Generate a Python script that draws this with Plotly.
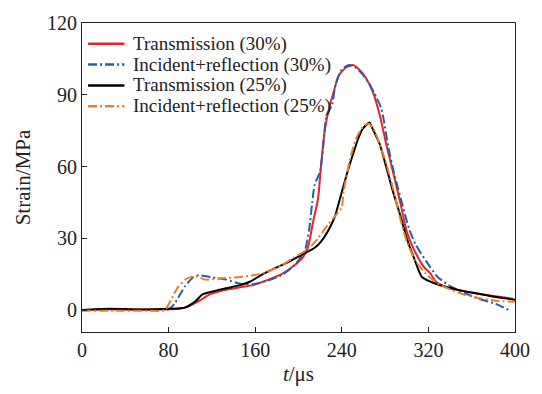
import plotly.graph_objects as go

# Time axis (μs) and strain values for each signal
t_tr30 = [0, 25, 60, 90, 95, 108, 117.5, 130, 146, 158, 171, 184, 196, 204, 209, 213.5, 218, 221, 224.6, 229,
          232.4, 237, 243.5, 250, 256, 262, 268.7, 275, 281, 287.6, 294, 300, 306.5, 316, 322, 327, 335,
          350.6, 366, 382, 398]
v_tr30 = [0, 0.3, 0.2, 0.5, 1, 3.7, 6.4, 8.1, 9.5, 10.4, 12.5, 14.9, 18.6, 22, 26.7, 36.9, 46.4, 61.3, 76.2, 85.7,
          91, 97.9, 101.3, 102.4, 100.6, 97.2, 91.1, 81.6, 69.4, 57.2, 45, 32.8, 25.4, 17.9, 15.2, 11.8, 9.8,
          8.1, 6.8, 5.7, 4.7]

t_ir30 = [0, 30, 60, 80, 86, 95, 103, 108, 120.6, 133, 146, 158, 171, 184, 196, 205.7, 210, 212.8, 215, 220,
          223, 226, 231, 234, 240, 246.6, 253, 259, 265.5, 271.8, 276.5, 278.7, 283, 289, 295.4, 302, 308,
          317.5, 328.5, 341, 353.7, 366, 382, 396]
v_ir30 = [0, 0, 0, 0.3, 3, 9.8, 13.8, 14.5, 13.6, 12.7, 11, 10.8, 12.2, 14.5, 18.6, 24.7, 34.2, 45.5, 52.5, 58,
          69.4, 81.6, 85.7, 93.8, 100.6, 102.4, 101.3, 98.6, 94.5, 89, 84.3, 79.6, 68, 55.9, 45, 34.2, 27.5,
          20.7, 13.8, 9.8, 7.1, 4.7, 2.6, -0.4]

t_tr25 = [0, 25, 60, 80, 95, 105, 111, 120.6, 133, 146, 155, 165, 177, 190, 202.5, 215, 221, 229, 234, 238.4,
          246.6, 251, 255, 259, 265.4, 268.7, 275, 281, 287.6, 294, 300, 306.5, 314, 322, 335, 350.6, 366, 382, 400]
v_tr25 = [0, 0.5, 0.2, 0.5, 1, 3.7, 6.4, 7.7, 9.1, 10.4, 11.8, 14.5, 17.2, 19.9, 22.9, 26, 28.7, 34.5, 39.6, 46.7,
          59.9, 66, 71.5, 75.5, 78.4, 75.5, 69.4, 59.9, 49, 39.6, 30, 22, 13.8, 11.8, 9.8, 8.1, 6.8, 5.4, 4.3]

t_ir25 = [0, 30, 60, 76.5, 83, 89, 97, 105, 114, 127, 146, 158, 171, 184, 196, 209, 218, 228, 237, 240, 241.7,
          247.6, 253, 259, 264, 268.7, 275, 281, 287.6, 294, 300, 308, 317.5, 328.5, 341, 353.7, 366, 382, 400]
v_ir25 = [-0.3, -0.3, -0.3, 0, 5, 9.8, 13.2, 14.1, 12.7, 13.2, 13.8, 14.5, 15.9, 18.6, 22, 25.4, 30, 36.2, 41,
          43, 49.6, 63, 71.5, 76.3, 78, 76.3, 69.4, 61.3, 50.4, 38.2, 28.7, 20.6, 15.2, 11.1, 8.4, 6.4, 5,
          3.9, 3.4]

names = ["Transmission (30%)", "Incident+reflection (30%)", "Transmission (25%)", "Incident+reflection (25%)"]
colors = ["#e3262b", "#2a5ba8", "#000000", "#e8802f"]
dashes = ["solid", "9px,3px,2px,3px", "solid", "9px,3px,2px,3px"]
series = [(t_tr30, v_tr30), (t_ir30, v_ir30), (t_tr25, v_tr25), (t_ir25, v_ir25)]

font = "Liberation Serif, Times New Roman, serif"
ink = "#222"

fig = go.Figure()
for (tx, vy), name, c, d in zip(series, names, colors, dashes):
    fig.add_trace(go.Scatter(
        x=tx, y=vy, mode="lines", name=name, showlegend=False,
        line=dict(color=c, width=2, dash=d, shape="spline", smoothing=0.6),
    ))

# Compact legend in the upper-left corner of the plot area (paper coordinates)
key_x0, key_x1, text_x = 0.014, 0.098, 0.113
row_y0, row_step = 0.933, 0.0675
for i, (name, c, d) in enumerate(zip(names, colors, dashes)):
    yy = row_y0 - i * row_step
    fig.add_shape(type="line", xref="paper", yref="paper", x0=key_x0, x1=key_x1, y0=yy, y1=yy,
                  line=dict(color=c, width=2.5, dash=d))
    fig.add_annotation(xref="paper", yref="paper", x=text_x, y=yy, xanchor="left", yanchor="middle",
                       text=name, showarrow=False, font=dict(family=font, size=19, color=ink))

axis_common = dict(
    showline=True, linecolor=ink, linewidth=1.2, mirror=True,
    ticks="inside", ticklen=5, tickcolor=ink, showgrid=False, zeroline=False,
    tickfont=dict(family=font, size=20, color=ink),
)

fig.update_layout(
    width=542, height=394,
    margin=dict(l=82, r=22, t=17, b=59),
    paper_bgcolor="white", plot_bgcolor="white",
    font=dict(family=font, color=ink),
    showlegend=False,
    xaxis=dict(range=[0, 400], tickvals=[0, 80, 160, 240, 320, 400],
               title=dict(text="<i>t</i>/μs", font=dict(family=font, size=21), standoff=6),
               **axis_common),
    yaxis=dict(range=[-9.2, 120], tickvals=[0, 30, 60, 90, 120],
               title=dict(text="Strain/MPa", font=dict(family=font, size=21), standoff=10),
               **axis_common),
)

fig.write_html("out.html")
